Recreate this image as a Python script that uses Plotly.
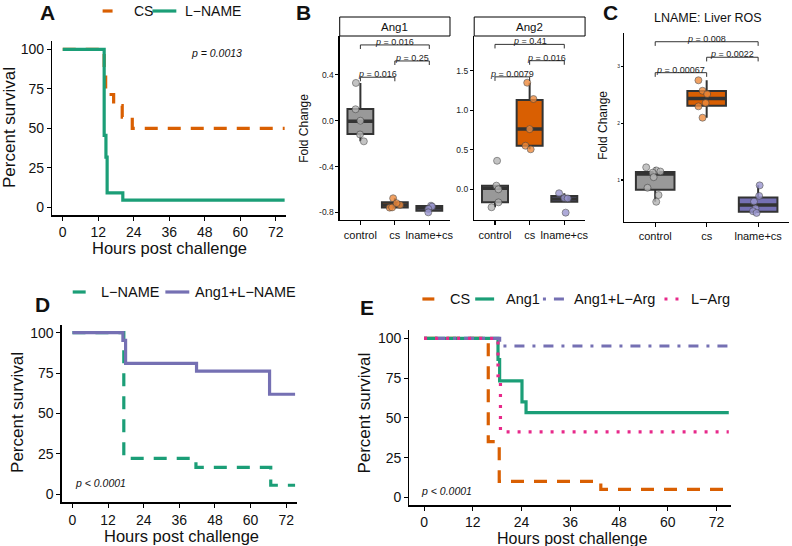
import plotly.graph_objects as go

W, H = 792, 546
FONT = "Liberation Sans, Arial, Helvetica, sans-serif"

# ---------------- data ----------------
# Panel A: survival (%)
a_cs_time = [0, 14.0, 14.5, 17.2, 20.1, 23.5, 75]
a_cs_surv = [100, 85.7, 71.4, 64.3, 57.1, 50.0, 50.0]
a_lname_time = [0, 14.0, 14.6, 15.0, 20.3, 75]
a_lname_surv = [100, 45.5, 31.8, 9.1, 4.5, 4.5]
a_pval = "p = 0.0013"

# Panel B / C groups
groups = ["control", "cs", "lname+cs"]

# Panel B, Ang1 (fold change)
b1_control = [0.33, 0.10, 0.0, -0.12, -0.18]
b1_cs = [-0.677, -0.759, -0.757, -0.735, -0.72]
b1_lname = [-0.742, -0.75, -0.77, -0.80]
b1_q1 = [-0.116, -0.758, -0.786]
b1_med = [-0.005, -0.735, -0.762]
b1_q3 = [0.102, -0.712, -0.745]
b1_lo = [-0.18, -0.759, -0.80]
b1_hi = [0.33, -0.677, -0.742]
b1_pvals = ["p = 0.016", "p = 0.25", "p = 0.016"]
b1_pairs = [(1, 3), (2, 3), (1, 2)]
b1_levels = [0.662, 0.522, 0.38]

# Panel B, Ang2 (fold change)
b2_control = [0.36, 0.046, 0.0, -0.165, -0.227]
b2_cs = [1.346, 1.14, 0.76, 0.55, 0.505]
b2_lname = [-0.05, -0.11, -0.115, -0.295]
b2_q1 = [-0.164, 0.55, -0.156]
b2_med = [0.012, 0.761, -0.122]
b2_q3 = [0.045, 1.128, -0.085]
b2_lo = [-0.227, 0.505, -0.156]
b2_hi = [0.046, 1.346, -0.05]
b2_pvals = ["p = 0.41", "p = 0.016", "p = 0.0079"]
b2_pairs = [(1, 3), (2, 3), (1, 2)]
b2_levels = [1.83, 1.624, 1.42]

# Panel C, LNAME liver ROS (fold change)
c_control = [1.224, 1.17, 1.15, 1.13, 1.05, 0.864, 0.735, 0.617]
c_cs = [2.76, 2.575, 2.517, 2.36, 2.30, 2.10]
c_lname = [0.906, 0.72, 0.62, 0.50, 0.45, 0.42]
c_q1 = [0.83, 2.31, 0.441]
c_med = [1.106, 2.44, 0.559]
c_q3 = [1.143, 2.57, 0.694]
c_lo = [0.617, 2.10, 0.42]
c_hi = [1.224, 2.76, 0.906]
c_pvals = ["p = 0.008", "p = 0.0022", "p = 0.00067"]
c_pairs = [(1, 3), (2, 3), (1, 2)]
c_levels = [3.44, 3.166, 2.894]

# jitter offsets of the points (category units)
b1_jit = [[-0.13, -0.14, 0.0, -0.01, 0.10], [-0.05, -0.15, -0.08, 0.15, 0.05], [0.05, 0.08, -0.03, -0.03]]
b2_jit = [[0.06, 0.04, 0.1, 0.1, -0.1], [-0.07, 0.11, 0.0, -0.12, 0.03], [-0.15, 0.0, 0.1, 0.04]]
c_jit = [[-0.175, 0.02, 0.1, -0.05, -0.03, -0.15, 0.065, 0.02],
         [-0.16, -0.08, 0.01, -0.02, -0.16, -0.08],
         [0.03, 0.02, -0.08, -0.05, -0.1, -0.03]]

# Panel D survival
d_lname_time = [0, 17.3, 41.6, 66.8, 75]
d_lname_surv = [100, 22.2, 16.7, 5.6, 5.6]
d_ang1_time = [0, 17.0, 17.9, 41.8, 66.4, 75]
d_ang1_surv = [100, 95.2, 81.0, 76.2, 61.9, 61.9]
d_pval = "p < 0.0001"

# Panel E survival
e_cs_time = [0, 15.8, 18.5, 43.5, 75]
e_cs_surv = [100, 35.0, 10.0, 5.0, 5.0]
e_ang1_time = [0, 18.2, 18.6, 24.1, 25.1, 75]
e_ang1_surv = [100, 86.7, 73.3, 60.0, 53.3, 53.3]
e_ang1larg_time = [0, 18.6, 75]
e_ang1larg_surv = [100, 95.2, 95.2]
e_larg_time = [0, 18.2, 18.8, 75]
e_larg_surv = [100, 76.5, 41.2, 41.2]
e_pval = "p < 0.0001"

hour_ticks = [0, 12, 24, 36, 48, 60, 72]
surv_ticks = [0, 25, 50, 75, 100]

# ---------------- styles ----------------
ORANGE = "#D95F02"
GREEN = "#1B9E77"
PURPLE = "#7570B3"
PINK = "#E7298A"
GREY = "#999999"
box_fill = [GREY, ORANGE, PURPLE]
pt_fill = ["#B5B5B5", "#EE8A3C", "#9A96D0"]
DASH = "13px,10px"
DOTDASH = "3px,8px,10px,8px"
DOT = "3px,8px"
LW = 3.2


def dx(l, r):
    return [l / W, r / W]


def dy(top, bottom):
    return [1 - bottom / H, 1 - top / H]


fig = go.Figure()

axis_base = dict(showline=True, linecolor="black", linewidth=1.3, ticks="outside",
                 ticklen=4, tickwidth=1.1, tickcolor="black", showgrid=False,
                 zeroline=False, fixedrange=True)


def surv(xa, ya, t, s, color, dash):
    fig.add_trace(go.Scatter(x=t, y=s, mode="lines", xaxis=xa, yaxis=ya,
                             line=dict(shape="hv", color=color, width=LW, dash=dash),
                             showlegend=False, hoverinfo="skip"))


# Panel A
surv("x", "y", a_cs_time, a_cs_surv, ORANGE, DASH)
surv("x", "y", a_lname_time, a_lname_surv, GREEN, "solid")
# Panel D
surv("x5", "y5", d_lname_time, d_lname_surv, GREEN, DASH)
surv("x5", "y5", d_ang1_time, d_ang1_surv, PURPLE, "solid")
# Panel E
surv("x6", "y6", e_cs_time, e_cs_surv, ORANGE, DASH)
surv("x6", "y6", e_ang1_time, e_ang1_surv, GREEN, "solid")
surv("x6", "y6", e_ang1larg_time, e_ang1larg_surv, PURPLE, DOTDASH)
surv("x6", "y6", e_larg_time, e_larg_surv, PINK, DOT)

shapes = []
annotations = []


def boxpanel(xa, ya, q1, med, q3, lo, hi, pts, jit, pairs, levels, pvals, span):
    for i in range(3):
        c = i + 1
        fig.add_trace(go.Box(x=[c], q1=[q1[i]], median=[med[i]], q3=[q3[i]],
                             lowerfence=[lo[i]], upperfence=[hi[i]], width=0.75,
                             xaxis=xa, yaxis=ya, fillcolor=box_fill[i],
                             line=dict(color="#333333", width=2), whiskerwidth=0,
                             boxpoints=False, showlegend=False, hoverinfo="skip"))
        fig.add_trace(go.Scatter(x=[c - 0.375, c + 0.375], y=[med[i], med[i]], mode="lines",
                                 xaxis=xa, yaxis=ya, line=dict(color="#333333", width=3.5),
                                 showlegend=False, hoverinfo="skip"))
        fig.add_trace(go.Scatter(x=[c + j for j in jit[i]], y=pts[i], mode="markers",
                                 xaxis=xa, yaxis=ya,
                                 marker=dict(size=7, color=pt_fill[i], opacity=0.8,
                                             line=dict(color="#444444", width=0.7)),
                                 showlegend=False, hoverinfo="skip"))
    drop = 0.022 * span
    for (a, b), lev, p in zip(pairs, levels, pvals):
        shapes.append(dict(type="path", xref=xa, yref=ya,
                           path=f"M {a},{lev - drop} L {a},{lev} L {b},{lev} L {b},{lev - drop}",
                           line=dict(color="#333333", width=1)))
        annotations.append(dict(x=(a + b) / 2, y=lev, xref=xa, yref=ya, yanchor="bottom",
                                yshift=-4, showarrow=False,
                                text="<i>p</i>" + p[1:],
                                font=dict(size=9, color="#222222", family=FONT)))


b1_range = [-0.867, 0.74]
b2_range = [-0.388, 1.936]
c_range = [0.265, 3.594]
boxpanel("x2", "y2", b1_q1, b1_med, b1_q3, b1_lo, b1_hi, [b1_control, b1_cs, b1_lname],
         b1_jit, b1_pairs, b1_levels, b1_pvals, b1_range[1] - b1_range[0])
boxpanel("x3", "y3", b2_q1, b2_med, b2_q3, b2_lo, b2_hi, [b2_control, b2_cs, b2_lname],
         b2_jit, b2_pairs, b2_levels, b2_pvals, b2_range[1] - b2_range[0])
boxpanel("x4", "y4", c_q1, c_med, c_q3, c_lo, c_hi, [c_control, c_cs, c_lname],
         c_jit, c_pairs, c_levels, c_pvals, c_range[1] - c_range[0])

# ---------------- axes ----------------
surv_x = dict(axis_base, range=[-3.6, 75.6], tickvals=hour_ticks,
              tickfont=dict(size=14, color="#111111", family=FONT))
surv_y = dict(axis_base, range=[-5, 105], tickvals=surv_ticks,
              tickfont=dict(size=14, color="#111111", family=FONT))
cat_x = dict(axis_base, range=[0.4, 3.6], tickvals=[1, 2, 3], ticktext=groups,
             tickfont=dict(size=11, color="#111111", family=FONT))

layout_axes = dict(
    xaxis=dict(surv_x, domain=dx(52.3, 287.5), anchor="y"),
    yaxis=dict(surv_y, domain=dy(41.4, 215.2), anchor="x"),
    xaxis2=dict(cat_x, domain=dx(341, 451.7), anchor="y2"),
    yaxis2=dict(axis_base, domain=dy(36, 220), anchor="x2", range=b1_range,
                tickvals=[-0.8, -0.4, 0.0, 0.4], ticktext=["-0.8", "-0.4", "0.0", "0.4"],
                tickfont=dict(size=8.5, color="#222222", family=FONT), ticklen=3),
    xaxis3=dict(cat_x, domain=dx(476, 587.3), anchor="y3"),
    yaxis3=dict(axis_base, domain=dy(36, 220), anchor="x3", range=b2_range,
                tickvals=[0.0, 0.5, 1.0, 1.5], ticktext=["0.0", "0.5", "1.0", "1.5"],
                tickfont=dict(size=8.5, color="#222222", family=FONT), ticklen=3),
    xaxis4=dict(cat_x, domain=dx(626.7, 792), anchor="y4"),
    yaxis4=dict(axis_base, domain=dy(33, 221.7), anchor="x4", range=c_range,
                tickvals=[1, 2, 3], tickfont=dict(size=5, color="#222222", family=FONT),
                ticklen=2),
    xaxis5=dict(surv_x, domain=dx(62, 298), anchor="y5"),
    yaxis5=dict(surv_y, domain=dy(324.6, 502.4), anchor="x5"),
    xaxis6=dict(surv_x, domain=dx(411, 734), anchor="y6"),
    yaxis6=dict(surv_y, domain=dy(330.4, 505.3), anchor="x6"),
)


def txt(x, y, text, size, bold=False, italic=False, angle=0, xanchor="center", color="#111111"):
    t = text
    if bold:
        t = "<b>" + t + "</b>"
    if italic:
        t = "<i>" + t + "</i>"
    annotations.append(dict(x=x / W, y=1 - y / H, xref="paper", yref="paper", text=t,
                            showarrow=False, xanchor=xanchor, yanchor="middle",
                            textangle=angle, font=dict(size=size, color=color, family=FONT)))


def key(x0, x1, y, color, dash):
    shapes.append(dict(type="line", xref="paper", yref="paper", x0=x0 / W, x1=x1 / W,
                       y0=1 - y / H, y1=1 - y / H, line=dict(color=color, width=LW, dash=dash)))


# panel letters
txt(48, 12, "A", 21, bold=True)
txt(305, 12, "B", 21, bold=True)
txt(613, 12, "C", 21, bold=True)
txt(43, 304, "D", 21, bold=True)
txt(368, 307, "E", 21, bold=True)

# axis titles
txt(9, 127, "Percent survival", 17, angle=-90)
txt(170, 248, "Hours post challenge", 16.5)
txt(305, 128, "Fold Change", 12, angle=-90)
txt(605, 125, "Fold Change", 12, angle=-90)
txt(711, 18, "LNAME: Liver ROS", 12.5)
txt(17, 412, "Percent survival", 17, angle=-90)
txt(182, 536, "Hours post challenge", 16.5)
txt(365, 413, "Percent survival", 17, angle=-90)
txt(574, 538.5, "Hours post challenge", 16)

# p values in survival panels
txt(217, 53, a_pval, 10.5, italic=True)
txt(73, 483, d_pval, 10.5, italic=True, xanchor="left")
txt(421, 491, e_pval, 10.5, italic=True, xanchor="left")

# strips for facets
for (l, r, lab) in [(341, 451.7, "Ang1"), (476, 587.3, "Ang2")]:
    shapes.append(dict(type="rect", xref="paper", yref="paper", x0=l / W, x1=r / W,
                       y0=1 - 36 / H, y1=1 - 17 / H, line=dict(color="black", width=1),
                       fillcolor="white"))
    txt((l + r) / 2, 26.5, lab, 11.5)

# legends
key(103, 113, 11, ORANGE, "solid")
txt(132, 11, "CS", 14, xanchor="left")
key(153, 177, 11, GREEN, "solid")
txt(184, 11, "L\u2212NAME", 14, xanchor="left")

key(73, 86, 292, GREEN, "solid")
txt(99, 292, "L\u2212NAME", 14.5, xanchor="left")
key(166, 190, 292, PURPLE, "solid")
txt(194, 292, "Ang1+L\u2212NAME", 14.5, xanchor="left")

key(424, 436, 299, ORANGE, "solid")
txt(450, 299, "CS", 14.5, xanchor="left")
key(477, 496, 299, GREEN, "solid")
txt(506, 299, "Ang1", 14.5, xanchor="left")
key(545, 567, 299, PURPLE, DOTDASH)
txt(574, 299, "Ang1+L\u2212Arg", 14.5, xanchor="left")
key(667, 683, 299, PINK, DOT)
txt(692, 299, "L\u2212Arg", 14.5, xanchor="left")

fig.update_layout(
    width=W, height=H, margin=dict(l=0, r=0, t=0, b=0),
    paper_bgcolor="white", plot_bgcolor="white", showlegend=False,
    boxmode="overlay", font=dict(family=FONT, color="#111111"),
    shapes=shapes, annotations=annotations, **layout_axes,
)

fig.write_html("out.html", config={"displayModeBar": False, "staticPlot": True},
               post_script="document.body.style.margin='0';document.body.style.padding='0';"
                           "document.body.style.overflow='hidden';")
